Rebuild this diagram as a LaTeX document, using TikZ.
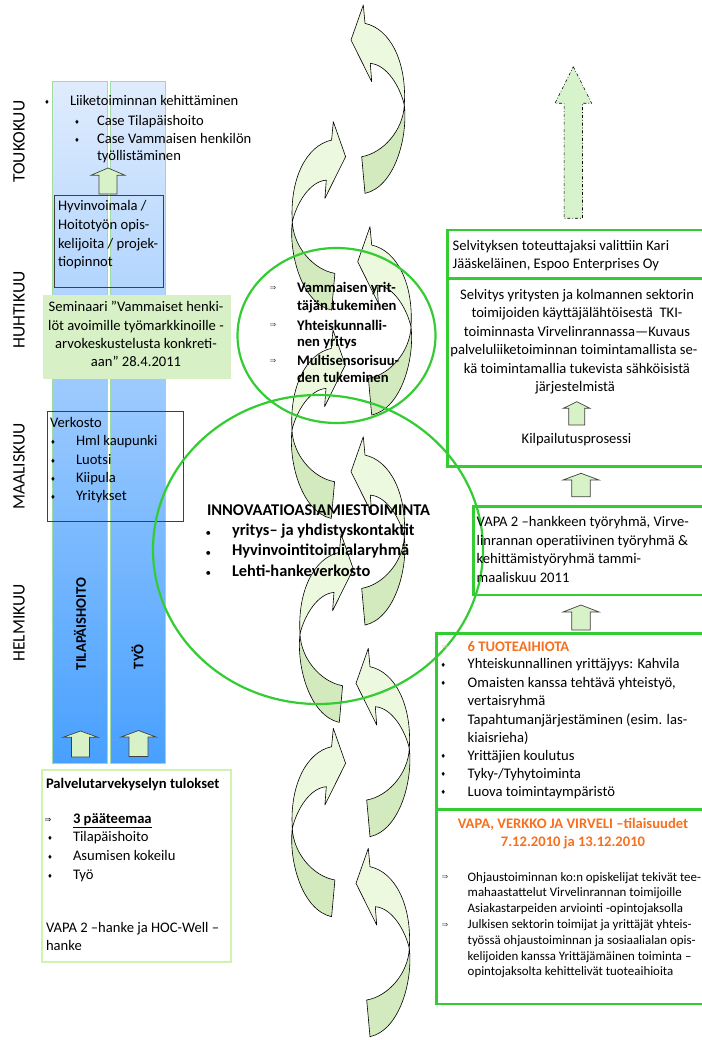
\documentclass[tikz,border=0pt]{standalone}
\usepackage{fontspec}
\setmainfont{Carlito}
\newfontfamily\djv{DejaVu Sans}
\definecolor{gbox}{RGB}{51,204,51}
\definecolor{lgbox}{RGB}{208,244,172}
\definecolor{semfill}{RGB}{215,240,198}
\definecolor{afront}{RGB}{236,249,222}
\definecolor{aback}{RGB}{211,234,190}
\definecolor{sarrow}{RGB}{216,242,200}
\definecolor{dashfill}{RGB}{214,243,204}
\definecolor{coltop}{RGB}{224,236,253}
\definecolor{colbot}{RGB}{72,160,255}
\definecolor{colline}{RGB}{160,220,160}
\definecolor{orng}{RGB}{247,112,30}
\newcommand\fmain{\fontsize{14.6}{17.5}\selectfont}
\newcommand\fsm{\fontsize{12.9}{15.5}\selectfont}
\newcommand\fbig{\fontsize{16.4}{20}\selectfont\bfseries}
\newcommand\fmon{\fontsize{17.5}{20}\selectfont}
\newcommand\dia{{\djv\fontsize{6}{6}\selectfont ♦}}
\newcommand\imp{{\djv\fontsize{8}{8}\selectfont ⇒}}
\newcommand\blkarrow[7][]{\draw[sarr,#1] (#2,#3) -- ({#2+#6},#4) -- ({#2+#7},#4) -- ({#2+#7},#5) -- ({#2-#7},#5) -- ({#2-#7},#4) -- ({#2-#6},#4) -- cycle;}
\tikzset{
  every node/.style={inner sep=0pt, outer sep=0pt},
  tl/.style={anchor=base west, font=\fmain},
  tc/.style={anchor=base, font=\fmain},
  bul/.style={anchor=center},
  gbx/.style={draw=gbox, line width=2.6pt},
  thinbox/.style={draw=black!75, line width=0.8pt},
  lgb/.style={draw=lgbox, line width=2.5pt},
  sarr/.style={fill=sarrow, draw=black!75, line width=0.7pt},
  ell/.style={draw=gbox, line width=2.2pt},
  carrow/.pic={
    \filldraw[fill=afront, draw=black, line width=0.6pt, line join=round]
      (0,0) -- (1.7,18.4) .. controls (26.7,23.7) and (43.7,56.7) .. (41,100)
      .. controls (36.7,81.7) and (23.7,59.7) .. (7,58.4) -- (8.4,76.7) -- (-12.3,35) -- cycle;
    \filldraw[fill=aback, draw=black, line width=0.6pt, line join=round]
      (41,100) .. controls (44.7,131.7) and (31.7,181.7) .. (1.7,188.4) -- (-1.6,151.7)
      .. controls (20,148) and (40,125) .. (41,100) -- cycle;
  }
}
\begin{document}
\begin{tikzpicture}[x=1pt,y=-1pt]
\useasboundingbox (0,0) rectangle (701,1040);
\fill[white] (0,0) rectangle (701,1040);

% columns
\shadedraw[top color=coltop,bottom color=colbot,draw=colline,line width=1pt] (52,81.7) rectangle (107,763);
\shadedraw[top color=coltop,bottom color=colbot,draw=colline,line width=1pt] (110,81.7) rectangle (165,763);

% boxes on the left
\fill[semfill] (43,295) rectangle (231,379);
\draw[thinbox] (54,195) rectangle (163,287);
\draw[thinbox] (47,411) rectangle (183,521);
\draw[lgb] (42,770) rectangle (231,962);

% small block arrows
\blkarrow{108}{168}{175.3}{194}{17}{9}
\blkarrow{80.5}{731}{737.3}{757}{17.5}{9}
\blkarrow{138.5}{730.5}{737}{756.5}{17.5}{9.5}
\blkarrow{576.7}{401.7}{408.3}{425}{13.3}{8}
\blkarrow{581}{473.3}{480}{496.7}{18}{9.2}
\blkarrow{581}{605}{612}{630}{18}{9.2}
\blkarrow[fill=dashfill,draw=black,dash dot,line width=0.6pt]{573.3}{66.7}{103.3}{218.3}{18.3}{9.2}

% curved arrows
\pic at (363.3,5) {carrow};
\pic[xscale=-1] at (333.3,121.7) {carrow};
\pic at (370,226.7) {carrow};
\pic[xscale=-1] at (333,330) {carrow};
\pic at (363.3,436.7) {carrow};
\pic[xscale=-1] at (341,534) {carrow};
\pic at (368.3,648.3) {carrow};
\pic[xscale=-1] at (333.3,728.3) {carrow};
\pic at (368.3,848.3) {carrow};

% right boxes
\draw[gbx] (447.3,230) rectangle (704,278.3);
\draw[gbx] (447.3,278.3) rectangle (704,466.7);
\draw[gbx] (473.3,506.7) rectangle (704,595);
\draw[gbx] (436.7,633.3) rectangle (704,809.3);
\draw[gbx] (436.7,809.3) rectangle (704,1004);

% ellipses
\draw[ell] (336.5,335.5) ellipse [x radius=99, y radius=87.5];
\draw[ell] (318,549.5) ellipse [x radius=165, y radius=154.5];

% month labels
\node[font=\fmon, rotate=90] (m1) at (19,141.7) {TOUKOKUU};
\node[font=\fmon, rotate=90] (m2) at (19,310) {HUHTIKUU};
\node[font=\fmon, rotate=90] (m3) at (19,466.7) {MAALISKUU};
\node[font=\fmon, rotate=90] (m4) at (19,623) {HELMIKUU};

% column labels
\node[font=\fmain\bfseries, rotate=90] (c1) at (80,624) {TILAPÄISHOITO};
\node[font=\fmain\bfseries, rotate=90] (c2) at (137.5,657) {TYÖ};

% top-left list
\node[bul] (tb1) at (47,102.5) {\dia};
\node[tl] (tt1) at (70,106) {Liiketoiminnan kehittäminen};
\node[bul] (tb2) at (77,122.5) {\dia};
\node[tl] (tt2) at (97,126) {Case Tilapäishoito};
\node[bul] (tb3) at (77,140.5) {\dia};
\node[tl] (tt3) at (97,144) {Case Vammaisen henkilön};
\node[tl] (tt4) at (97,161) {työllistäminen};

% Hyvinvoimala
\node[tl] (h1) at (58,210.7) {Hyvinvoimala /};
\node[tl] (h2) at (58,230) {Hoitotyön opis-};
\node[tl] (h3) at (58,249) {kelijoita / projek-};
\node[tl] (h4) at (58,266.7) {tiopinnot};

% Seminaari
\node[tc] (s1) at (136,312) {Seminaari ”Vammaiset henki-};
\node[tc] (s2) at (136,330) {löt avoimille työmarkkinoille -};
\node[tc] (s3) at (136,348) {arvokeskustelusta konkreti-};
\node[tc] (s4) at (136,366) {aan” 28.4.2011};

% Verkosto
\node[tl] (v0) at (50,427.7) {Verkosto};
\node[bul] (vb1) at (53,442.5) {\dia};
\node[tl] (v1) at (76,445.7) {Hml kaupunki};
\node[bul] (vb2) at (53,461) {\dia};
\node[tl] (v2) at (76,464.3) {Luotsi};
\node[bul] (vb3) at (53,479.5) {\dia};
\node[tl] (v3) at (76,482.7) {Kiipula};
\node[bul] (vb4) at (53,497.5) {\dia};
\node[tl] (v4) at (76,500.7) {Yritykset};

% bottom-left box
\node[tl, font=\fmain\bfseries] (p0) at (46,788.3) {Palvelutarvekyselyn tulokset};
\node[bul] (pi1) at (48,820) {\imp};
\node[tl, font=\fmain\bfseries] (p1) at (73,823.3) {\underline{3 pääteemaa}};
\node[bul] (pb1) at (50,838.5) {\dia};
\node[tl] (p2) at (73,841.7) {Tilapäishoito};
\node[bul] (pb2) at (50,857) {\dia};
\node[tl] (p3) at (73,860) {Asumisen kokeilu};
\node[bul] (pb3) at (50,876) {\dia};
\node[tl] (p4) at (73,879) {Työ};
\node[tl] (p5) at (46,932.7) {VAPA 2 –hanke ja HOC-Well –};
\node[tl] (p6) at (46,950) {hanke};

% small ellipse text
\node[bul, text=black!70] (ei1) at (273,288.3) {\imp};
\node[tl, font=\fmain\bfseries] (e1) at (297,292.7) {Vammaisen yrit-};
\node[tl, font=\fmain\bfseries] (e2) at (297,310) {täjän tukeminen};
\node[bul, text=black!70] (ei2) at (273,325.8) {\imp};
\node[tl, font=\fmain\bfseries] (e3) at (297,330) {Yhteiskunnalli-};
\node[tl, font=\fmain\bfseries] (e4) at (297,346.7) {nen yritys};
\node[bul, text=black!70] (ei3) at (273,361) {\imp};
\node[tl, font=\fmain\bfseries] (e5) at (297,365) {Multisensorisuu-};
\node[tl, font=\fmain\bfseries] (e6) at (297,382) {den tukeminen};

% big ellipse text
\node[tl, font=\fbig] (i0) at (207,515) {INNOVAATIOASIAMIESTOIMINTA};
\node[bul] (ib1) at (208.3,534) {\fontsize{11}{11}\selectfont •};
\node[tl, font=\fbig] (i1) at (232,535.3) {yritys– ja yhdistyskontaktit};
\node[bul] (ib2) at (208.3,553.7) {\fontsize{11}{11}\selectfont •};
\node[tl, font=\fbig] (i2) at (232,555.7) {Hyvinvointitoimialaryhmä};
\node[bul] (ib3) at (208.3,574) {\fontsize{11}{11}\selectfont •};
\node[tl, font=\fbig] (i3) at (232,576) {Lehti-hankeverkosto};

% right box 1
\node[tl] (r1a) at (452.7,250.7) {Selvityksen toteuttajaksi valittiin Kari};
\node[tl] (r1b) at (452.7,268.7) {Jääskeläinen, Espoo Enterprises Oy};

% right box 2
\node[tc] (r2a) at (577,299.5) {Selvitys yritysten ja kolmannen sektorin};
\node[tc] (r2b) at (577,317.9) {toimijoiden käyttäjälähtöisestä \ TKI-};
\node[tc] (r2c) at (577,336.3) {toiminnasta Virvelinrannassa—Kuvaus};
\node[tc] (r2d) at (574,354.7) {palveluliiketoiminnan toimintamallista se-};
\node[tc] (r2e) at (577,373.1) {kä toimintamallia tukevista sähköisistä};
\node[tc] (r2f) at (575,391.5) {järjestelmistä};
\node[tc] (r2g) at (576.5,443.3) {Kilpailutusprosessi};

% VAPA 2 box
\node[tl] (r3a) at (476.7,526) {VAPA 2 –hankkeen työryhmä, Virve-};
\node[tl] (r3b) at (476.7,545) {linrannan operatiivinen työryhmä \&};
\node[tl] (r3c) at (476.7,563.5) {kehittämistyöryhmä tammi-};
\node[tl] (r3d) at (476.7,582) {maaliskuu 2011};

% 6 TUOTEAIHIOTA box
\node[bul, text=orng!55] (ti0) at (445,647.5) {\imp};
\node[tl, font=\fmain\bfseries, text=orng] (t0) at (467.7,651) {6 TUOTEAIHIOTA};
\node[bul] (tb1r) at (443.3,665.2) {\dia};
\node[tl] (t1r) at (467.7,668.7) {Yhteiskunnallinen yrittäjyys: Kahvila};
\node[bul] (tb2r) at (443.3,683.8) {\dia};
\node[tl] (t2r) at (467.7,687.3) {Omaisten kanssa tehtävä yhteistyö,};
\node[tl] (t3r) at (467.7,705.7) {vertaisryhmä};
\node[bul] (tb3r) at (443.3,720.5) {\dia};
\node[tl] (t4r) at (467.7,724) {Tapahtumanjärjestäminen (esim. las-};
\node[tl] (t5r) at (467.7,742) {kiaisrieha)};
\node[bul] (tb4r) at (443.3,756.5) {\dia};
\node[tl] (t6r) at (467.7,760) {Yrittäjien koulutus};
\node[bul] (tb5r) at (443.3,774.5) {\dia};
\node[tl] (t7r) at (467.7,778) {Tyky-/Tyhytoiminta};
\node[bul] (tb6r) at (443.3,792.5) {\dia};
\node[tl] (t8r) at (467.7,796) {Luova toimintaympäristö};

% bottom right box
\node[tc, font=\fmain\bfseries, text=orng] (u0) at (573,828.3) {VAPA, VERKKO JA VIRVELI –tilaisuudet};
\node[tc, font=\fmain\bfseries, text=orng] (u1) at (573,846) {7.12.2010 ja 13.12.2010};
\node[bul, text=black!70] (ui1) at (445,877.3) {\imp};
\node[tl, font=\fsm] (u2) at (467.7,881) {Ohjaustoiminnan ko:n opiskelijat tekivät tee-};
\node[tl, font=\fsm] (u3) at (467.7,896.8) {mahaastattelut Virvelinrannan toimijoille};
\node[tl, font=\fsm] (u4) at (467.7,912.6) {Asiakastarpeiden arviointi -opintojaksolla};
\node[bul, text=black!70] (ui2) at (445,925.3) {\imp};
\node[tl, font=\fsm] (u5) at (467.7,928.4) {Julkisen sektorin toimijat ja yrittäjät yhteis-};
\node[tl, font=\fsm] (u6) at (467.7,944.2) {työssä ohjaustoiminnan ja sosiaalialan opis-};
\node[tl, font=\fsm] (u7) at (467.7,960) {kelijoiden kanssa Yrittäjämäinen toiminta –};
\node[tl, font=\fsm] (u8) at (467.7,975.8) {opintojaksolta kehittelivät tuoteaihioita};
\end{tikzpicture}
\end{document}
